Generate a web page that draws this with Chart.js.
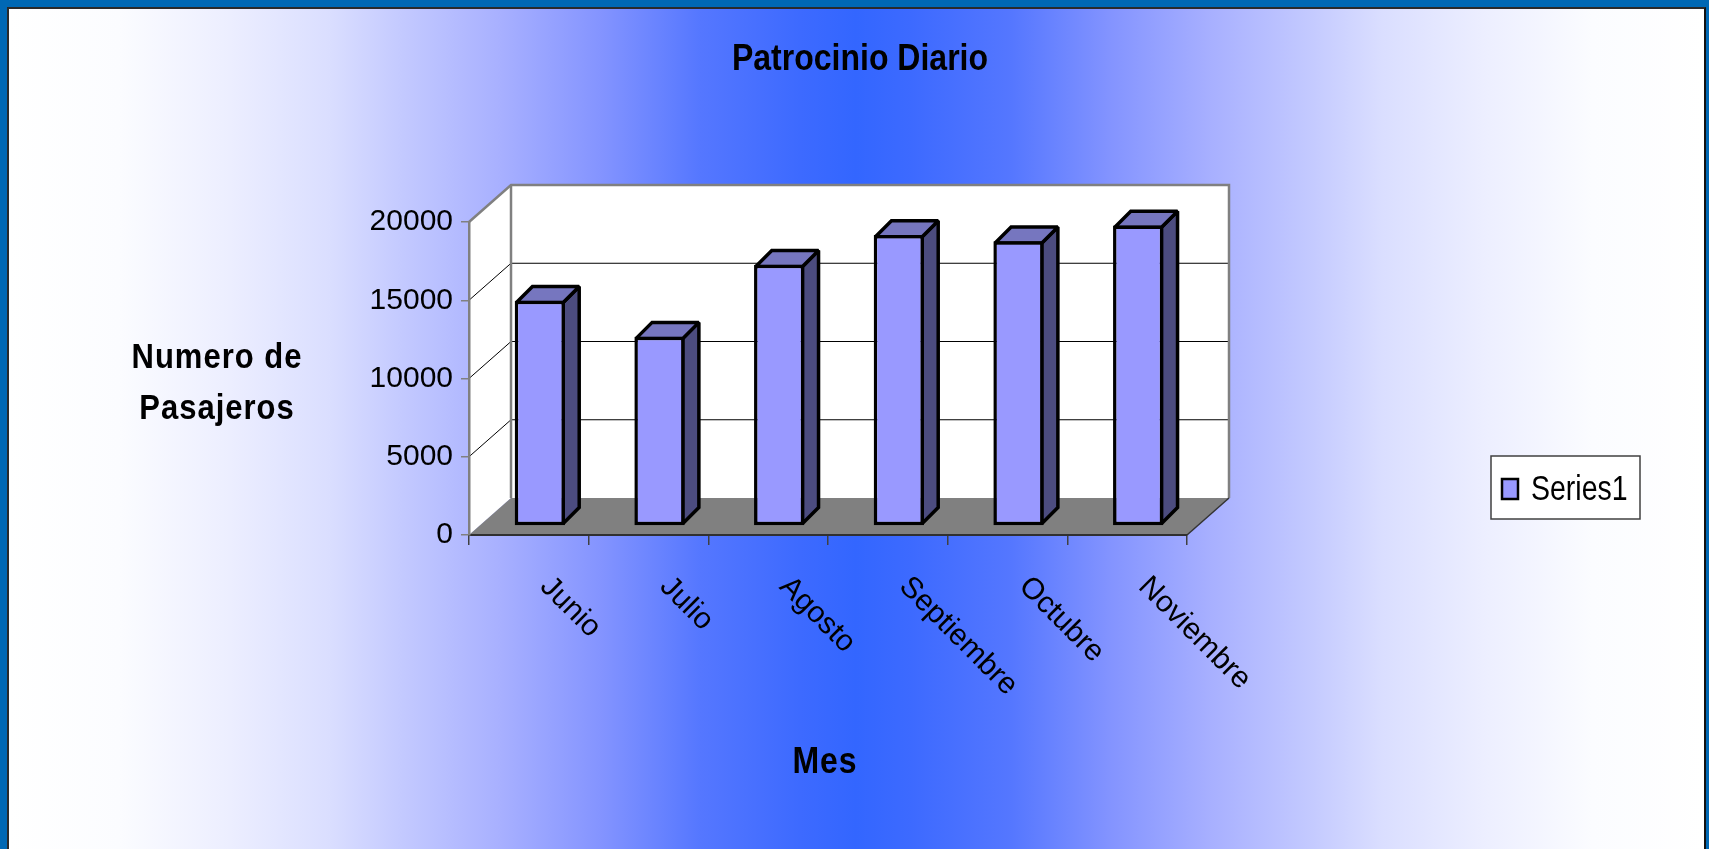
<!DOCTYPE html>
<html>
<head>
<meta charset="utf-8">
<script src="https://cdn.jsdelivr.net/npm/chart.js@4.4.1/dist/chart.umd.min.js"></script>
<style>
html, body { margin:0; padding:0; width:1709px; height:849px; overflow:hidden; background:#0068b4; }
#frame {
  position:absolute; left:7px; top:7px; width:1699px; height:842px; box-sizing:border-box;
  border-left:2px solid #2a2a2a; border-top:2px solid #2a2a2a; border-right:2px solid #111;
  background: linear-gradient(to right,
    #ffffff 0px, #fbfcff 111px, #eceeff 221px, #dadeff 321px, #c4caff 391px, #a8b0ff 491px,
    #8494ff 591px, #5577ff 691px, #3d6aff 791px, #3366ff 847px, #3d6aff 903px, #5577ff 1003px,
    #8494ff 1103px, #a8b0ff 1203px, #c4caff 1303px, #dadeff 1373px, #eceeff 1473px, #fbfcff 1583px, #ffffff 1695px);
}
canvas { position:absolute; left:0; top:0; z-index:1; }
</style>
</head>
<body>
<div id="frame"></div>
<canvas id="c" width="1709" height="849"></canvas>
<script>
// ---- data ----
const categories = ['Junio', 'Julio', 'Agosto', 'Septiembre', 'Octubre', 'Noviembre'];
const pasajeros = [14400, 12100, 16700, 18600, 18200, 19200];
const yTicks = [0, 5000, 10000, 15000, 20000];
const seriesName = 'Series1';
const chartTitle = 'Patrocinio Diario';
const yTitleLines = ['Numero de', 'Pasajeros'];
const xTitle = 'Mes';

// ---- 3D look ----
const WALL_DX = 42, WALL_DY = -37;
const BAR_DX = 11, BAR_DY = -9;
const DEPTH_DX = 16, DEPTH_DY = -16;
const FRONT = '#9999ff', TOP = '#7676bf', SIDE = '#4c4c7f';
const OUTLINE = 3.5;

function stretchedText(ctx, text, x, y, font, sy, align, spacing) {
  ctx.save();
  ctx.font = font; ctx.textAlign = align; ctx.textBaseline = 'alphabetic'; ctx.fillStyle = '#000';
  if (spacing) ctx.letterSpacing = spacing;
  ctx.translate(x, y); ctx.scale(1, sy); ctx.fillText(text, 0, 0);
  ctx.restore();
}

const threeD = {
  id: 'threeD',
  beforeDraw(chart) {
    const { ctx, chartArea: a, scales: { y } } = chart;
    const L = a.left, R = a.right;
    const T = y.getPixelForValue(yTicks[yTicks.length - 1]), B = y.getPixelForValue(0);
    ctx.save();
    ctx.fillStyle = '#ffffff';
    ctx.beginPath();
    ctx.moveTo(L, T); ctx.lineTo(L + WALL_DX, T + WALL_DY); ctx.lineTo(L + WALL_DX, B + WALL_DY); ctx.lineTo(L, B);
    ctx.closePath(); ctx.fill();
    ctx.fillRect(L + WALL_DX, T + WALL_DY, R - L, B - T);
    ctx.fillStyle = '#808080';
    ctx.beginPath();
    ctx.moveTo(L, B); ctx.lineTo(R, B); ctx.lineTo(R + WALL_DX, B + WALL_DY); ctx.lineTo(L + WALL_DX, B + WALL_DY);
    ctx.closePath(); ctx.fill();
    ctx.strokeStyle = '#000'; ctx.lineWidth = 1;
    yTicks.forEach((v, i) => {
      if (i === 0 || i === yTicks.length - 1) return;
      const py = y.getPixelForValue(v);
      ctx.beginPath();
      ctx.moveTo(L, py); ctx.lineTo(L + WALL_DX, py + WALL_DY); ctx.lineTo(R + WALL_DX, py + WALL_DY);
      ctx.stroke();
    });
    ctx.strokeStyle = '#808080'; ctx.lineWidth = 2.5;
    ctx.beginPath();
    ctx.moveTo(L, T); ctx.lineTo(L + WALL_DX, T + WALL_DY); ctx.lineTo(R + WALL_DX, T + WALL_DY); ctx.lineTo(R + WALL_DX, B + WALL_DY);
    ctx.stroke();
    ctx.beginPath();
    ctx.moveTo(L + WALL_DX, T + WALL_DY); ctx.lineTo(L + WALL_DX, B + WALL_DY);
    ctx.stroke();
    ctx.strokeStyle = '#333'; ctx.lineWidth = 1.5;
    ctx.beginPath(); ctx.moveTo(R, B); ctx.lineTo(R + WALL_DX, B + WALL_DY); ctx.stroke();
    ctx.restore();
  },
  beforeDatasetsDraw(chart) {
    const ctx = chart.ctx;
    const meta = chart.getDatasetMeta(0);
    ctx.save();
    ctx.lineWidth = OUTLINE; ctx.strokeStyle = '#000'; ctx.lineJoin = 'miter'; ctx.miterLimit = 1.5;
    meta.data.forEach(el => {
      const { x, y, base, width } = el.getProps(['x', 'y', 'base', 'width'], true);
      const h = OUTLINE / 2;
      const x0 = x - width / 2 + BAR_DX + h, x1 = x + width / 2 + BAR_DX - h;
      const yT = y + BAR_DY + h, yB = base + BAR_DY - h;
      ctx.fillStyle = SIDE;
      ctx.beginPath();
      ctx.moveTo(x1, yT); ctx.lineTo(x1 + DEPTH_DX, yT + DEPTH_DY); ctx.lineTo(x1 + DEPTH_DX, yB + DEPTH_DY); ctx.lineTo(x1, yB);
      ctx.closePath(); ctx.fill(); ctx.stroke();
      ctx.fillStyle = TOP;
      ctx.beginPath();
      ctx.moveTo(x0, yT); ctx.lineTo(x1, yT); ctx.lineTo(x1 + DEPTH_DX, yT + DEPTH_DY); ctx.lineTo(x0 + DEPTH_DX, yT + DEPTH_DY);
      ctx.closePath(); ctx.fill(); ctx.stroke();
    });
    ctx.restore();
    ctx.save();
    ctx.translate(BAR_DX, BAR_DY);
  },
  afterDatasetsDraw(chart) {
    chart.ctx.restore();
  },
  afterDraw(chart) {
    const { ctx, scales: { x } } = chart;
    stretchedText(ctx, chartTitle, 860, 70, 'bold 32px "Liberation Sans"', 1.15, 'center');
    stretchedText(ctx, yTitleLines[0], 217, 368, 'bold 31px "Liberation Sans"', 1.15, 'center', '1px');
    stretchedText(ctx, yTitleLines[1], 217, 419, 'bold 31px "Liberation Sans"', 1.15, 'center', '1px');
    stretchedText(ctx, xTitle, 825, 773, 'bold 32px "Liberation Sans"', 1.15, 'center', '1px');
    categories.forEach((c, i) => {
      const px = x.getPixelForValue(i);
      ctx.save();
      ctx.translate(px + 16, 582);
      ctx.rotate(Math.PI / 4);
      ctx.font = '30px "Liberation Sans"'; ctx.textAlign = 'left'; ctx.textBaseline = 'middle'; ctx.fillStyle = '#000';
      ctx.fillText(c, 0, 0);
      ctx.restore();
    });
    // legend
    ctx.save();
    ctx.fillStyle = '#ffffff'; ctx.fillRect(1491, 456, 149, 63);
    ctx.strokeStyle = '#404040'; ctx.lineWidth = 1.5; ctx.strokeRect(1491, 456, 149, 63);
    ctx.fillStyle = FRONT; ctx.fillRect(1502, 479, 16, 20);
    ctx.strokeStyle = '#000'; ctx.lineWidth = 2.5; ctx.strokeRect(1502, 479, 16, 20);
    ctx.restore();
    stretchedText(ctx, seriesName, 1531, 500, '28.5px "Liberation Sans"', 1.2, 'left');
  }
};

new Chart(document.getElementById('c'), {
  type: 'bar',
  data: {
    labels: categories,
    datasets: [{
      label: seriesName,
      data: pasajeros,
      backgroundColor: FRONT,
      borderColor: '#000',
      borderWidth: OUTLINE,
      borderSkipped: false,
      categoryPercentage: 1,
      barPercentage: 0.42,
      clip: false
    }]
  },
  options: {
    responsive: false,
    devicePixelRatio: 1,
    animation: false,
    layout: { padding: { left: 349, right: 522, top: 222, bottom: 294 } },
    plugins: { legend: { display: false }, title: { display: false }, tooltip: { enabled: false } },
    scales: {
      x: {
        offset: true,
        grid: { display: true, offset: true, drawOnChartArea: false, drawTicks: true, tickLength: 10, color: '#404040', lineWidth: 1.5 },
        border: { display: true, color: '#303030', width: 2 },
        ticks: { display: false },
        afterFit(s) { s.height = 20; }
      },
      y: {
        min: 0, max: 20000,
        afterBuildTicks(s) { s.ticks = yTicks.map(v => ({ value: v })); },
        grid: { display: true, drawOnChartArea: false, drawTicks: true, tickLength: 8, color: '#808080', lineWidth: 1.5 },
        border: { display: true, color: '#808080', width: 2.5 },
        ticks: { padding: 8, color: '#000', font: { family: 'Liberation Sans', size: 30 }, callback: v => String(v) },
        afterFit(s) { s.width = 120; }
      }
    }
  },
  plugins: [threeD]
});
</script>
</body>
</html>
